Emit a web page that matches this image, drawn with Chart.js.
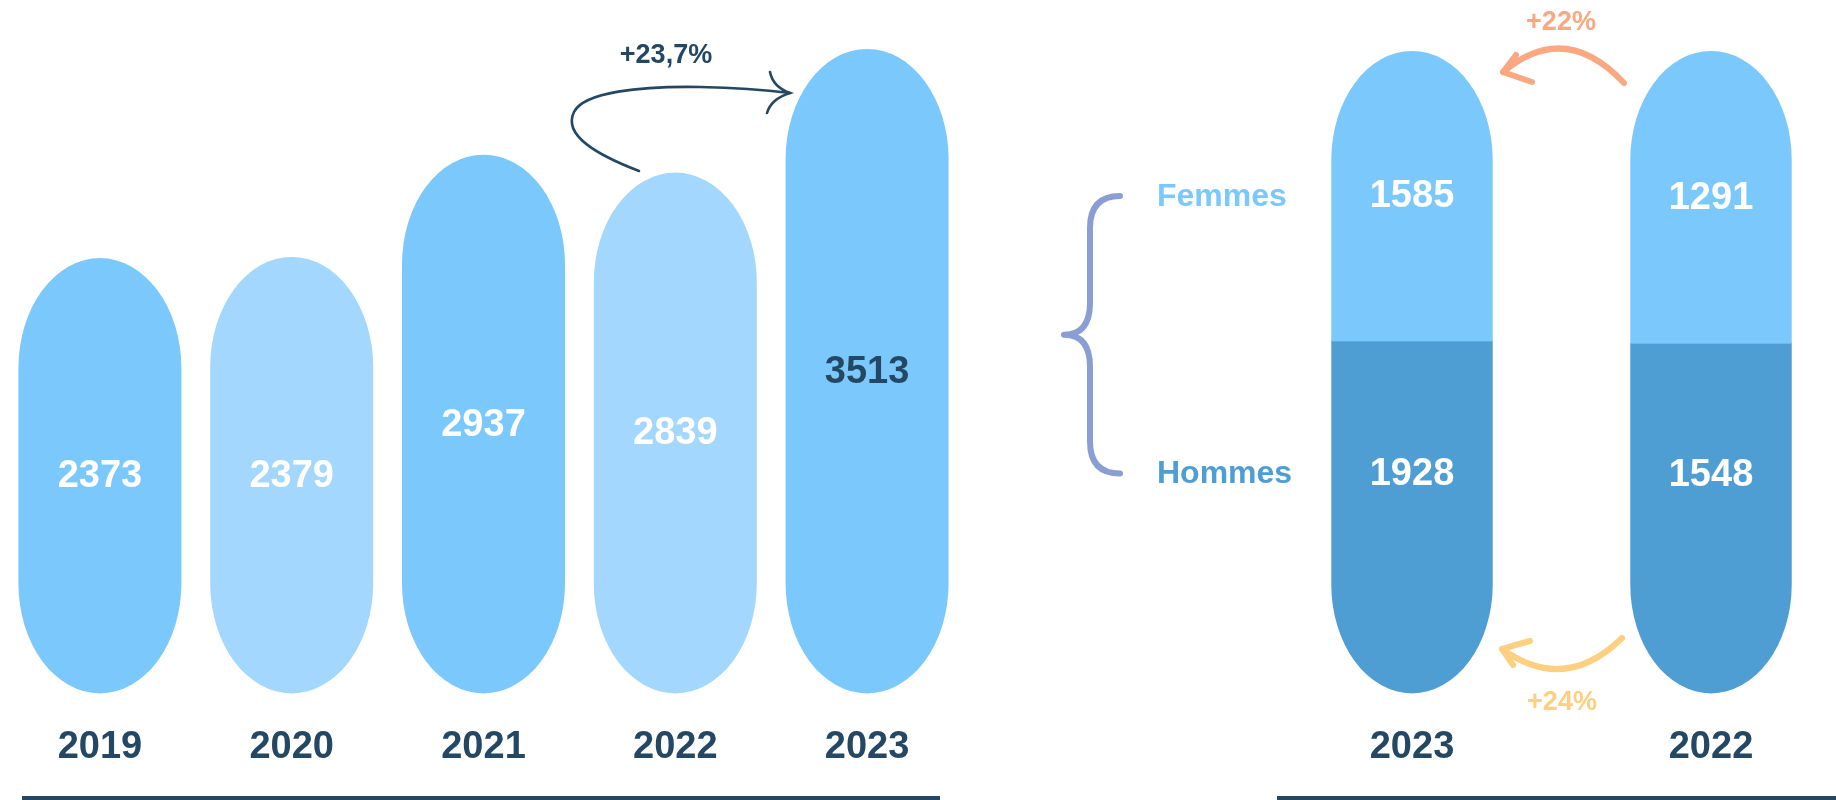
<!DOCTYPE html>
<html><head><meta charset="utf-8">
<script src="https://cdn.jsdelivr.net/npm/chart.js@4.4.1/dist/chart.umd.min.js"></script>
<style>
html,body{margin:0;padding:0;background:#fff;overflow:hidden;width:1836px;height:800px;}
.wrap{position:absolute;top:0;}
</style></head><body>
<div class="wrap" style="left:0;width:980px;height:800px"><canvas id="left" width="980" height="800"></canvas></div>
<div class="wrap" style="left:980px;width:856px;height:800px"><canvas id="right" width="856" height="800"></canvas></div>
<script>
// ---- data ----
const years = ['2019', '2020', '2021', '2022', '2023'];
const effectifs = [2373, 2379, 2937, 2839, 3513];
const genderYears = ['2023', '2022'];
const femmes = [1585, 1291];
const hommes = [1928, 1548];
const seriesNames = ['Hommes', 'Femmes'];
const evolTotal = '+23,7%';
const evolFemmes = '+22%';
const evolHommes = '+24%';

// ---- styles ----
const NAVY = '#244864';
const BLUE = '#7BC8FD';
const BLUE_LIGHT = '#A3D7FE';
const BLUE_DARK = '#4E9ED4';
const ORANGE = '#F9A882';
const YELLOW = '#FDCF80';
const BRACE = '#8A9ED3';
const FONT = '"Liberation Sans", Arial, sans-serif';
Chart.defaults.font.family = FONT;

function pillPath(ctx, x, top, bottom, w) {
  const rx = w / 2;
  const ry = Math.min(rx * 1.35, (bottom - top) / 2);
  ctx.beginPath();
  ctx.moveTo(x - rx, top + ry);
  ctx.ellipse(x, top + ry, rx, ry, 0, Math.PI, 0);
  ctx.lineTo(x + rx, bottom - ry);
  ctx.ellipse(x, bottom - ry, rx, ry, 0, 0, Math.PI);
  ctx.closePath();
  return ry;
}

const pillPlugin = {
  id: 'pill',
  beforeDatasetsDraw(chart) {
    const ctx = chart.ctx;
    const metas = chart.getSortedVisibleDatasetMetas();
    const n = chart.data.labels.length;
    for (let i = 0; i < n; i++) {
      let top = Infinity, bottom = -Infinity, x = 0, w = 0;
      metas.forEach(m => {
        const p = m.data[i].getProps(['x', 'y', 'base', 'width'], true);
        top = Math.min(top, p.y, p.base); bottom = Math.max(bottom, p.y, p.base);
        x = p.x; w = p.width;
      });
      ctx.save();
      pillPath(ctx, x, top, bottom, w);
      ctx.clip();
      metas.forEach(m => {
        const el = m.data[i];
        const p = el.getProps(['x', 'y', 'base', 'width'], true);
        ctx.fillStyle = el.options.backgroundColor;
        const t = Math.min(p.y, p.base), b = Math.max(p.y, p.base);
        ctx.fillRect(p.x - p.width / 2 - 1, t - 0.5, p.width + 2, b - t + 1);
      });
      ctx.restore();
    }
  },
  beforeDatasetDraw() { return false; },
  afterDatasetsDraw(chart) {
    const ctx = chart.ctx;
    const metas = chart.getSortedVisibleDatasetMetas();
    const stacked = metas.length > 1;
    ctx.save();
    ctx.font = 'bold 38px ' + FONT;
    ctx.textAlign = 'center';
    ctx.textBaseline = 'middle';
    chart._labelPos = [];
    metas.forEach((m, di) => {
      const ds = chart.data.datasets[m.index];
      chart._labelPos[m.index] = [];
      m.data.forEach((el, i) => {
        const p = el.getProps(['x', 'y', 'base', 'width'], true);
        let y = (p.y + p.base) / 2;
        if (stacked && di === 0) y -= p.width / 2 * 1.35 * 0.4;
        chart._labelPos[m.index][i] = y;
        const raw = ds.rawValues ? ds.rawValues[i] : ds.data[i];
        const col = Array.isArray(ds.labelColor) ? ds.labelColor[i] : ds.labelColor;
        ctx.fillStyle = col;
        ctx.fillText(String(raw), p.x, y + 1);
      });
    });
    ctx.restore();
  }
};

function axisLine(ctx, x1, x2, y) {
  ctx.save();
  ctx.strokeStyle = NAVY;
  ctx.lineWidth = 5;
  ctx.beginPath(); ctx.moveTo(x1, y); ctx.lineTo(x2, y); ctx.stroke();
  ctx.restore();
}

const leftDeco = {
  id: 'leftDeco',
  afterDraw(chart) {
    const ctx = chart.ctx;
    axisLine(ctx, 22, 940, 798.5);
    // arrow 2022 -> 2023
    ctx.save();
    ctx.strokeStyle = NAVY; ctx.lineWidth = 2.6; ctx.lineCap = 'round';
    ctx.beginPath();
    ctx.moveTo(639, 171);
    ctx.bezierCurveTo(600, 156, 562, 136, 574, 112);
    ctx.bezierCurveTo(584, 92, 640, 86, 700, 87);
    ctx.quadraticCurveTo(750, 88, 790, 93);
    ctx.stroke();
    ctx.beginPath();
    ctx.moveTo(770, 72); ctx.quadraticCurveTo(773, 87, 790, 93);
    ctx.quadraticCurveTo(771, 99, 767, 113);
    ctx.stroke();
    ctx.fillStyle = NAVY;
    ctx.font = 'bold 27px ' + FONT;
    ctx.textAlign = 'center'; ctx.textBaseline = 'middle';
    ctx.fillText(evolTotal, 666, 56);
    ctx.restore();
  }
};

const rightDeco = {
  id: 'rightDeco',
  afterDraw(chart) {
    const ctx = chart.ctx;
    axisLine(ctx, 297, 856, 798.5);
    const lp = chart._labelPos || [];
    const yF = lp[1] ? lp[1][0] : 193;
    const yH = lp[0] ? lp[0][0] : 478;
    ctx.save();
    // series names
    ctx.font = 'bold 32px ' + FONT;
    ctx.textAlign = 'left'; ctx.textBaseline = 'middle';
    ctx.fillStyle = BLUE; ctx.fillText(seriesNames[1], 177, yF + 1);
    ctx.fillStyle = BLUE_DARK; ctx.fillText(seriesNames[0], 177, yH + 1);
    // brace
    const mid = (yF + yH) / 2;
    ctx.strokeStyle = BRACE; ctx.lineWidth = 6; ctx.lineCap = 'round'; ctx.lineJoin = 'round';
    ctx.beginPath();
    ctx.moveTo(140, yF);
    ctx.quadraticCurveTo(110, yF, 110, yF + 32);
    ctx.lineTo(110, mid - 32);
    ctx.quadraticCurveTo(110, mid, 84, mid);
    ctx.quadraticCurveTo(110, mid, 110, mid + 32);
    ctx.lineTo(110, yH - 32);
    ctx.quadraticCurveTo(110, yH, 140, yH);
    ctx.stroke();
    // orange arrow (femmes)
    ctx.lineWidth = 6;
    ctx.strokeStyle = ORANGE;
    ctx.beginPath(); ctx.moveTo(644, 83); ctx.quadraticCurveTo(585, 20, 523, 72); ctx.stroke();
    ctx.beginPath(); ctx.moveTo(536, 55); ctx.lineTo(523, 72); ctx.quadraticCurveTo(537, 77, 552, 82); ctx.stroke();
    ctx.fillStyle = ORANGE; ctx.font = 'bold 27px ' + FONT; ctx.textAlign = 'center';
    ctx.fillText(evolFemmes, 581, 23);
    // yellow arrow (hommes)
    ctx.strokeStyle = YELLOW;
    ctx.beginPath(); ctx.moveTo(642, 638); ctx.quadraticCurveTo(585, 694, 522, 649); ctx.stroke();
    ctx.beginPath(); ctx.moveTo(550, 641); ctx.quadraticCurveTo(535, 645, 522, 649); ctx.lineTo(533, 665); ctx.stroke();
    ctx.fillStyle = YELLOW;
    ctx.fillText(evolHommes, 582, 703);
    ctx.restore();
  }
};

const xTicks = { color: NAVY, font: { size: 38, weight: 'bold', family: FONT }, padding: 23 };

new Chart(document.getElementById('left'), {
  type: 'bar',
  data: {
    labels: years,
    datasets: [{
      label: 'Effectif',
      data: effectifs,
      backgroundColor: [BLUE, BLUE_LIGHT, BLUE, BLUE_LIGHT, BLUE],
      labelColor: ['#ffffff', '#ffffff', '#ffffff', '#ffffff', NAVY],
      barPercentage: 0.85,
      categoryPercentage: 1
    }]
  },
  options: {
    responsive: false, animation: false,
    layout: { padding: { left: 4, right: 17, top: 0, bottom: 7 } },
    plugins: { legend: { display: false }, tooltip: { enabled: false } },
    scales: {
      x: { grid: { display: false }, border: { display: false }, ticks: xTicks },
      y: { display: false, min: 0, max: 3780 }
    }
  },
  plugins: [pillPlugin, leftDeco]
});

const totals = genderYears.map((_, i) => femmes[i] + hommes[i]);
new Chart(document.getElementById('right'), {
  type: 'bar',
  data: {
    labels: genderYears,
    datasets: [{
      label: seriesNames[0],
      data: hommes.map((v, i) => v / totals[i] * 100),
      rawValues: hommes,
      backgroundColor: BLUE_DARK,
      labelColor: '#ffffff',
      barPercentage: 0.54, categoryPercentage: 1, stack: 's'
    }, {
      label: seriesNames[1],
      data: femmes.map((v, i) => v / totals[i] * 100),
      rawValues: femmes,
      backgroundColor: BLUE,
      labelColor: '#ffffff',
      barPercentage: 0.54, categoryPercentage: 1, stack: 's'
    }]
  },
  options: {
    responsive: false, animation: false,
    layout: { padding: { left: 432, right: 125, top: 51, bottom: 7 } },
    plugins: { legend: { display: false }, tooltip: { enabled: false } },
    scales: {
      x: { offset: false, stacked: true, grid: { display: false }, border: { display: false }, ticks: xTicks },
      y: { display: false, stacked: true, min: 0, max: 100 }
    }
  },
  plugins: [pillPlugin, rightDeco]
});
</script>
</body></html>
